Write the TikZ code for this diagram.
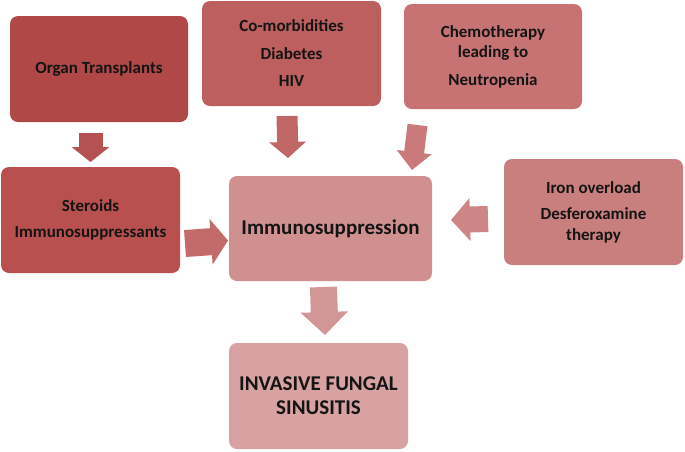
\documentclass[tikz,border=0pt]{standalone}
\usepackage{fontspec}
\setmainfont{Carlito}
\usetikzlibrary{arrows.meta}
\definecolor{cOrgan}{HTML}{B04848}
\definecolor{cComorb}{HTML}{BD5F5E}
\definecolor{cChemo}{HTML}{C77373}
\definecolor{cSter}{HTML}{B95050}
\definecolor{cImmuno}{HTML}{D09090}
\definecolor{cIron}{HTML}{CA7F7F}
\definecolor{cInv}{HTML}{D8A2A2}
\definecolor{txt}{HTML}{141414}
\begin{document}
\begin{tikzpicture}[x=1pt,y=-1pt,
  box/.style={rounded corners=8pt,inner sep=0pt,align=center,text=txt,
    font=\fontsize{17}{20.5}\selectfont\bfseries},
  big/.style={font=\fontsize{21}{24}\selectfont\bfseries},
  blk/.style={line width=#1}]
\useasboundingbox (0,0) rectangle (685,451);
\node[box,fill=cOrgan,minimum width=178pt,minimum height=106pt] (organ) at (99,69) {Organ Transplants};
\node[box,fill=cComorb,minimum width=179pt,minimum height=105pt] (comorb) at (291.5,53.5) {Co-morbidities\\[7pt]Diabetes\\[7pt]HIV};
\node[box,fill=cChemo,minimum width=178pt,minimum height=105pt] (chemo) at (493,56.5) {Chemotherapy\\leading to\\[7pt]Neutropenia};
\node[box,fill=cSter,minimum width=179pt,minimum height=106pt] (ster) at (90.5,220) {Steroids\\[6pt]Immunosuppressants};
\node[box,big,fill=cImmuno,minimum width=203pt,minimum height=105pt] (immuno) at (330.5,228.5) {Immunosuppression};
\node[box,fill=cIron,minimum width=179pt,minimum height=106pt] (iron) at (593.5,212) {Iron overload\\[6pt]Desferoxamine\\therapy};
\node[box,big,fill=cInv,minimum width=179pt,minimum height=106pt] (inv) at (318.5,396) {INVASIVE FUNGAL\\SINUSITIS};
% block arrow end points
\coordinate (a1s) at (90.5,133); \coordinate (a1e) at (90.5,162);
\coordinate (a2s) at (287,116); \coordinate (a2e) at (288,158);
\coordinate (a3s) at (417.5,125); \coordinate (a3e) at (412,170);
\coordinate (a4s) at (185,243.5); \coordinate (a4e) at (228,240.5);
\coordinate (a5s) at (488,219); \coordinate (a5e) at (451,220);
\coordinate (a6s) at (323.5,287); \coordinate (a6e) at (325,335);
\draw[line width=24pt,color=cOrgan!95!white,-{Triangle[length=15pt,width=37pt]}] (a1s) -- (a1e);
\draw[line width=21pt,color=cComorb!95!white,-{Triangle[length=16pt,width=36pt]}] (a2s) -- (a2e);
\draw[line width=20pt,color=cChemo!95!white,-{Triangle[length=18pt,width=34pt]}] (a3s) -- (a3e);
\draw[line width=27pt,color=cSter!85!white,-{Triangle[length=17pt,width=45pt]}] (a4s) -- (a4e);
\draw[line width=26pt,color=cIron!95!white,-{Triangle[length=19pt,width=42pt]}] (a5s) -- (a5e);
\draw[line width=27pt,color=cImmuno!95!white,-{Triangle[length=23pt,width=46pt]}] (a6s) -- (a6e);
\end{tikzpicture}
\end{document}
